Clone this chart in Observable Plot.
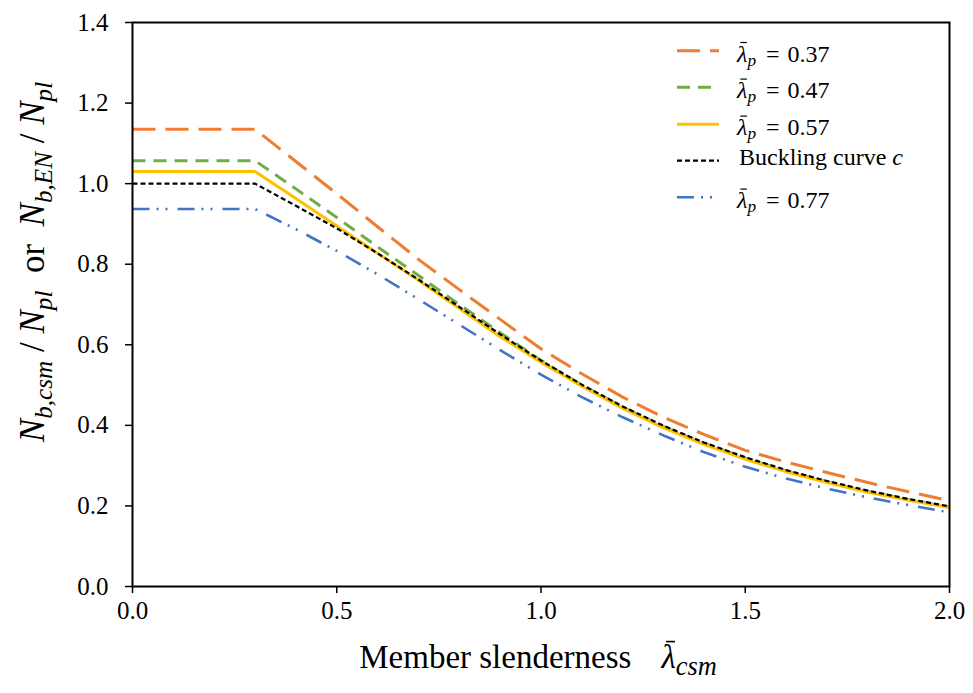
<!DOCTYPE html>
<html><head><meta charset="utf-8">
<script src="https://cdn.jsdelivr.net/npm/d3@7"></script>
<script src="https://cdn.jsdelivr.net/npm/@observablehq/plot@0.6"></script>
<style>body{margin:0;background:#fff}</style>
</head><body><div id="chart"></div>
<script>
const slenderness = [0, 0.3, 0.4, 0.5, 0.6, 0.7, 0.8, 0.9, 1.0, 1.1, 1.2, 1.3, 1.4, 1.5, 1.6, 1.7, 1.8, 1.9, 2.0];
const p037 = [1.135, 1.135, 1.055, 0.975, 0.893, 0.812, 0.737, 0.663, 0.590, 0.528, 0.470, 0.420, 0.377, 0.338, 0.309, 0.283, 0.258, 0.235, 0.213];
const p047 = [1.057, 1.057, 0.987, 0.916, 0.843, 0.772, 0.700, 0.630, 0.561, 0.500, 0.445, 0.397, 0.355, 0.319, 0.287, 0.260, 0.236, 0.216, 0.197];
const p057 = [1.030, 1.030, 0.963, 0.895, 0.827, 0.760, 0.690, 0.620, 0.557, 0.497, 0.442, 0.394, 0.352, 0.316, 0.285, 0.258, 0.234, 0.214, 0.196];
const curveC = [1.000, 1.000, 0.945, 0.889, 0.827, 0.762, 0.694, 0.626, 0.561, 0.501, 0.447, 0.399, 0.357, 0.321, 0.289, 0.262, 0.238, 0.217, 0.199];
const p077 = [0.937, 0.937, 0.887, 0.833, 0.775, 0.713, 0.650, 0.587, 0.526, 0.470, 0.420, 0.375, 0.333, 0.297, 0.268, 0.243, 0.221, 0.202, 0.184];
const xTicks = [0, 0.5, 1.0, 1.5, 2.0];
const yTicks = [0, 0.2, 0.4, 0.6, 0.8, 1.0, 1.2, 1.4];

const series = [
  {key: "p037", label: "0.37", values: p037, color: "#ED7D31", width: 3, dash: "23,10"},
  {key: "p047", label: "0.47", values: p047, color: "#70AD47", width: 3, dash: "13,8"},
  {key: "p057", label: "0.57", values: p057, color: "#FFC000", width: 3, dash: null},
  {key: "c", label: "Buckling curve c", values: curveC, color: "#000000", width: 2.2, dash: "5,3"},
  {key: "p077", label: "0.77", values: p077, color: "#4472C4", width: 2.6, dash: "17,7,2,7,2,10"}
];

const font = "'Liberation Serif', 'Times New Roman', serif";

const chart = Plot.plot({
  width: 973, height: 693,
  marginLeft: 132, marginRight: 24, marginTop: 22, marginBottom: 107,
  style: {fontFamily: font, fontSize: "25px", color: "#000", background: "#fff", overflow: "visible"},
  x: {domain: [0, 2]},
  y: {domain: [0, 1.4]},
  marks: [
    Plot.axisX({ticks: xTicks, tickFormat: d => d.toFixed(1), tickSize: 7, tickPadding: 8, label: null, fontSize: 25, strokeWidth: 1.5}),
    Plot.axisY({ticks: yTicks, tickFormat: d => d.toFixed(1), tickSize: 7, tickPadding: 17, label: null, fontSize: 25, strokeWidth: 1.5}),
    ...series.map(s => Plot.line(slenderness.map((x, i) => ({x, y: s.values[i]})), {
      x: "x", y: "y", stroke: s.color, strokeWidth: s.width,
      strokeDasharray: s.dash || undefined, strokeLinecap: "butt", strokeLinejoin: "round"
    })),
    Plot.frame({stroke: "#000", strokeWidth: 2})
  ]
});
document.getElementById("chart").appendChild(chart);

const svg = d3.select(chart);

function rich(textSel, segs, size, subRatio = 0.72, shift = 0.22) {
  let inSub = false;
  segs.forEach(s => {
    const ts = textSel.append("tspan").text(s.t);
    if (s.i) ts.attr("font-style", "italic");
    if (s.dx) ts.attr("dx", s.dx);
    if (s.sub) {
      ts.attr("font-size", size * subRatio);
      if (!inSub) { ts.attr("dy", size * shift); inSub = true; }
    } else if (inSub) {
      ts.attr("dy", -size * shift); inSub = false;
    }
  });
}

// draw a bar over the character at index idx of a text node (unrotated text only)
function macron(textSel, idx, baseline, size) {
  const node = textSel.node();
  const p0 = node.getStartPositionOfChar(idx);
  const p1 = node.getEndPositionOfChar(idx);
  const w = p1.x - p0.x;
  svg.append("line")
    .attr("x1", p0.x + w * 0.32).attr("x2", p0.x + w * 0.95)
    .attr("y1", baseline - size * 0.80).attr("y2", baseline - size * 0.80)
    .attr("stroke", "#000").attr("stroke-width", Math.max(1, size * 0.05));
}

// Legend
const legendY = [50.7, 87.3, 124.3, 160.7, 197.3];
const lg = svg.append("g").attr("font-family", font).attr("font-size", 24).attr("fill", "#000").attr("text-anchor", "start");
series.forEach((s, i) => {
  const y = legendY[i];
  lg.append("line").attr("x1", 677).attr("x2", 719).attr("y1", y).attr("y2", y)
    .attr("stroke", s.color).attr("stroke-width", s.width)
    .attr("stroke-dasharray", s.dash || null);
  if (s.key === "c") {
    const t = lg.append("text").attr("x", 739).attr("y", y + 4);
    rich(t, [{t: "Buckling curve "}, {t: "c", i: true}], 24);
  } else {
    const base = y + 11;
    const t = lg.append("text").attr("x", 737).attr("y", base);
    rich(t, [{t: "λ", i: true}, {t: "p", i: true, sub: true}, {t: "=", dx: 10}, {t: s.label, dx: 8}], 24, 0.72, 0.16);
    macron(t, 0, base, 24);
  }
});

// X axis label
const xSize = 33, xBase = 668, xGap = 30;
const xl = svg.append("text").attr("y", xBase).attr("text-anchor", "start")
  .attr("font-family", font).attr("font-size", xSize).attr("fill", "#000");
const xPrefix = "Member slenderness";
rich(xl, [{t: xPrefix}, {t: "λ", i: true, dx: xGap}, {t: "csm", i: true, sub: true}], xSize, 0.8);
const xLen = xl.node().getComputedTextLength() + xGap;
xl.attr("x", 538 - xLen / 2);
macron(xl, xPrefix.length, xBase, xSize);

// Y axis label
const ySize = 35;
const yl = svg.append("text").attr("transform", "translate(44,262) rotate(-90)")
  .attr("text-anchor", "start")
  .attr("font-family", font).attr("font-size", ySize).attr("fill", "#000");
rich(yl, [
  {t: "N", i: true}, {t: "b,csm", i: true, sub: true}, {t: " / "},
  {t: "N", i: true}, {t: "pl", i: true, sub: true}, {t: "  or  "},
  {t: "N", i: true}, {t: "b,EN", i: true, sub: true}, {t: " / "},
  {t: "N", i: true}, {t: "pl", i: true, sub: true}
], ySize);
const yLen = yl.node().getComputedTextLength();
yl.attr("x", -yLen / 2);
</script>
</body></html>
